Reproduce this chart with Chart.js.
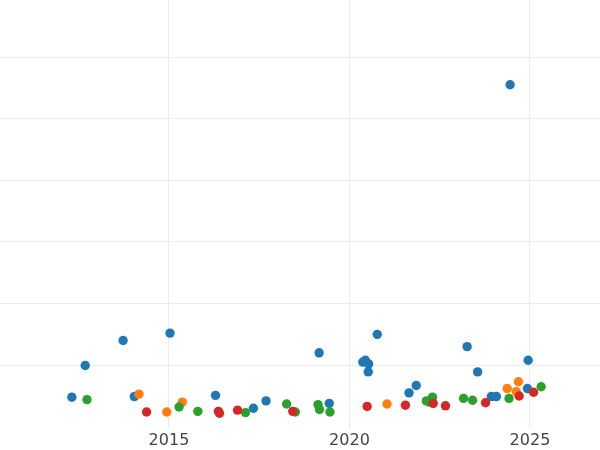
<!DOCTYPE html>
<html>
<head>
<meta charset="utf-8">
<script src="https://cdn.jsdelivr.net/npm/chart.js@4/dist/chart.umd.min.js"></script>
<style>
  html, body { margin: 0; padding: 0; background: #fff; }
  #wrap { width: 600px; height: 450px; }
</style>
</head>
<body>
<div id="wrap"><canvas id="scatterChart"></canvas></div>
<script>
// x = decimal year, y = value (gridline units)
const blueX = [2012.31, 2012.68, 2013.73, 2014.04, 2015.03, 2016.29, 2017.34, 2017.69, 2019.16, 2019.44,
               2020.37, 2020.44, 2020.53, 2020.52, 2020.77, 2021.65, 2021.85, 2023.26, 2023.55, 2023.93,
               2024.07, 2024.45, 2024.95, 2024.93];
const blueY = [0.48, 0.995, 1.40, 0.49, 1.52, 0.51, 0.30, 0.42, 1.20, 0.38,
               1.05, 1.08, 1.02, 0.89, 1.50, 0.55, 0.67, 1.30, 0.89, 0.49,
               0.49, 5.55, 1.08, 0.62];

const orangeX = [2014.17, 2014.94, 2015.37, 2021.04, 2024.37, 2024.68, 2024.62];
const orangeY = [0.53, 0.24, 0.40, 0.37, 0.62, 0.73, 0.57];

const greenX = [2012.73, 2015.28, 2015.80, 2017.12, 2018.26, 2018.50, 2019.13, 2019.17, 2019.46, 2022.13,
                2022.21, 2022.30, 2023.16, 2023.41, 2024.42, 2025.31];
const greenY = [0.44, 0.32, 0.25, 0.23, 0.37, 0.24, 0.36, 0.28, 0.24, 0.42,
                0.40, 0.48, 0.46, 0.43, 0.46, 0.65];

const redX = [2014.38, 2016.37, 2016.40, 2016.90, 2018.43, 2020.49, 2021.55, 2022.32, 2022.66, 2023.77,
              2024.70, 2025.10];
const redY = [0.24, 0.25, 0.22, 0.27, 0.25, 0.33, 0.35, 0.38, 0.34, 0.39, 0.50, 0.56];

const xTicks = [2015, 2020, 2025];
const yTicks = [1, 2, 3, 4, 5, 6];

const toPoints = (xs, ys) => xs.map((x, i) => ({ x: x, y: ys[i] }));

const series = [
    { name: 'blue', color: '#1f77b4', xs: blueX, ys: blueY, order: 4 },
    { name: 'orange', color: '#ff7f0e', xs: orangeX, ys: orangeY, order: 3 },
    { name: 'green', color: '#2ca02c', xs: greenX, ys: greenY, order: 2 },
    { name: 'red', color: '#d62728', xs: redX, ys: redY, order: 1 }
];

const gridColor = '#ebebeb';

new Chart(document.getElementById('scatterChart'), {
    type: 'scatter',
    data: {
        datasets: series.map(s => ({
            label: s.name,
            data: toPoints(s.xs, s.ys),
            backgroundColor: s.color,
            borderWidth: 0,
            pointRadius: 4.7,
            pointHoverRadius: 4.7,
            order: s.order
        }))
    },
    options: {
        responsive: true,
        maintainAspectRatio: false,
        animation: false,
        // negative bottom padding pushes the tick labels a bit lower
        layout: { padding: { top: 0, left: 0, right: 0, bottom: -4 }, autoPadding: false },
        plugins: {
            legend: { display: false },
            tooltip: { enabled: false }
        },
        scales: {
            x: {
                type: 'linear',
                min: 2010.32,
                max: 2026.94,
                afterBuildTicks: scale => { scale.ticks = xTicks.map(v => ({ value: v })); },
                grid: { color: gridColor, drawTicks: false },
                border: { display: false },
                ticks: {
                    padding: 3,
                    color: '#444',
                    font: { family: '"DejaVu Sans"', size: 16, lineHeight: 1.25 },
                    callback: v => String(v),
                    maxRotation: 0
                }
            },
            y: {
                type: 'linear',
                min: -0.02,
                max: 6.925,
                afterBuildTicks: scale => { scale.ticks = yTicks.map(v => ({ value: v })); },
                grid: { color: gridColor, drawTicks: false },
                border: { display: false },
                ticks: { display: false }
            }
        }
    }
});
</script>
</body>
</html>
